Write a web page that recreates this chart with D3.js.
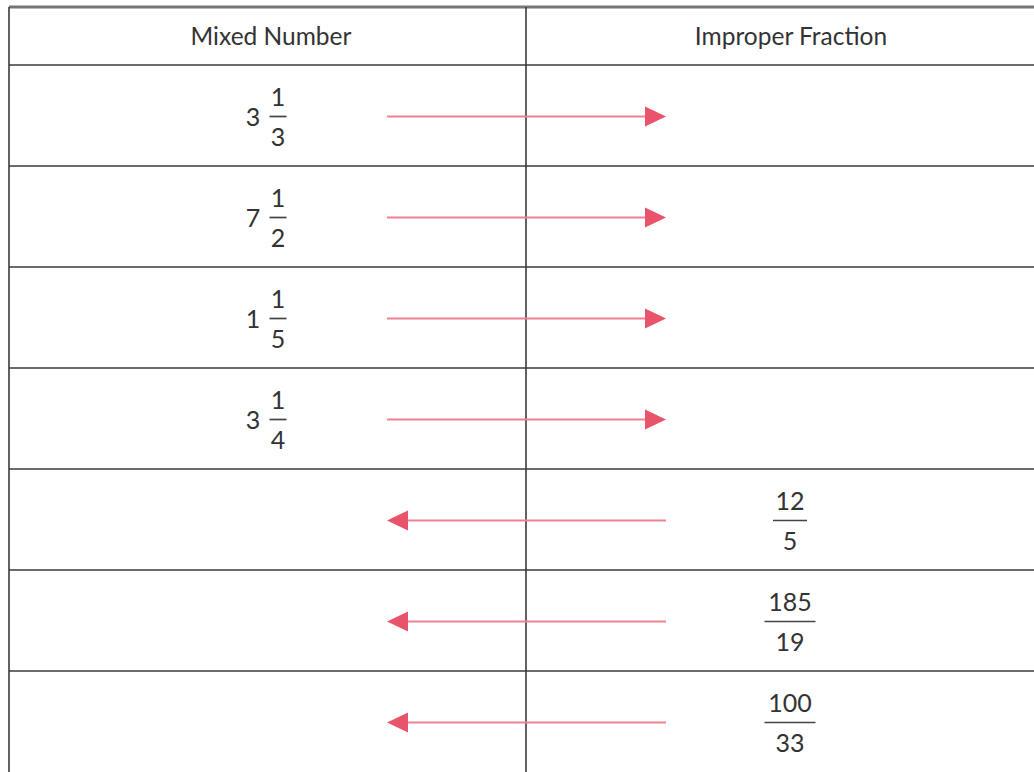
<!DOCTYPE html>
<html>
<head>
<meta charset="utf-8">
<script src="https://cdn.jsdelivr.net/npm/d3@7"></script>
<style>
  body { margin: 0; background: #fff; }
  svg { display: block; }
  text { font-family: Lato, "Open Sans", sans-serif; fill: #333; }
</style>
</head>
<body>
<main></main>
<script>
const width = 1034
const height = 772

// table content
const headers = ['Mixed Number', 'Improper Fraction']
const wholes = [3, 7, 1, 3, null, null, null]
const numerators = [1, 1, 1, 1, 12, 185, 100]
const denominators = [3, 2, 5, 4, 5, 19, 33]
const fractionColumn = [0, 0, 0, 0, 1, 1, 1]
const directions = ['right', 'right', 'right', 'right', 'left', 'left', 'left']

const grid = { left: 9, top: 7, headerBottom: 65, divider: 526, right: 1056, rowH: 101 }

const svg = d3.select('main')
              .append('svg')
              .attr('width', width)
              .attr('height', height)

const rowScale = d3.scaleBand()
                  .domain(d3.range(wholes.length))
                  .range([grid.headerBottom, grid.headerBottom + grid.rowH * wholes.length])

const colCenter = d3.scaleOrdinal()
                  .domain([0, 1])
                  .range([278, 790])

const arrowX = d3.scaleLinear().domain([0, 1]).range([387, 666])

// grid lines
const lines = svg.append('g').attr('stroke', '#3a3a3a').attr('stroke-width', 1.6)

lines.append('line')
  .attr('x1', grid.left).attr('x2', grid.right)
  .attr('y1', grid.top).attr('y2', grid.top)
  .attr('stroke', '#777').attr('stroke-width', 3)

lines.selectAll('.hline')
  .data(d3.range(wholes.length))
  .enter()
  .append('line')
  .attr('class', 'hline')
  .attr('x1', grid.left).attr('x2', grid.right)
  .attr('y1', (d) => rowScale(d)).attr('y2', (d) => rowScale(d))

lines.selectAll('.vline')
  .data([grid.left, grid.divider])
  .enter()
  .append('line')
  .attr('class', 'vline')
  .attr('x1', (d) => d).attr('x2', (d) => d)
  .attr('y1', grid.top).attr('y2', height)

// headers
svg.selectAll('.header')
  .data(headers)
  .enter()
  .append('text')
  .attr('class', 'header')
  .attr('x', (d, i) => i === 0 ? 271 : 791)
  .attr('y', 35)
  .attr('text-anchor', 'middle')
  .attr('dominant-baseline', 'central')
  .attr('font-size', 24.5)
  .text((d) => d)

// fractions (bar sits on the arrow line)
const barY = (i) => rowScale(i) + rowScale.bandwidth() / 2 + 1

const cells = svg.selectAll('.cell')
  .data(d3.range(wholes.length))
  .enter()
  .append('g')
  .attr('class', 'cell')
  .attr('transform', (i) => `translate(${colCenter(fractionColumn[i])}, ${barY(i)})`)

cells.append('text')
  .attr('y', -11)
  .attr('text-anchor', 'middle')
  .attr('font-size', 25)
  .text((i) => numerators[i])

cells.append('text')
  .attr('y', 29)
  .attr('text-anchor', 'middle')
  .attr('font-size', 25)
  .text((i) => denominators[i])

cells.append('line')
  .attr('x1', (i) => -String(numerators[i]).length * 8.5)
  .attr('x2', (i) => String(numerators[i]).length * 8.5)
  .attr('y1', 0).attr('y2', 0)
  .attr('stroke', '#444').attr('stroke-width', 1.7)

cells.filter((i) => wholes[i] !== null)
  .append('text')
  .attr('x', -25)
  .attr('y', 9)
  .attr('text-anchor', 'middle')
  .attr('font-size', 25)
  .text((i) => wholes[i])

// arrows
const arrows = svg.selectAll('.arrow')
  .data(directions)
  .enter()
  .append('g')
  .attr('class', 'arrow')

arrows.append('line')
  .attr('x1', (d) => d === 'right' ? arrowX(0) : arrowX(0) + 18)
  .attr('x2', (d) => d === 'right' ? arrowX(1) - 18 : arrowX(1))
  .attr('y1', (d, i) => barY(i)).attr('y2', (d, i) => barY(i))
  .attr('stroke', '#f08090')
  .attr('stroke-width', 2)

arrows.append('path')
  .attr('d', (d, i) => {
    const y = barY(i)
    if (d === 'right') {
      const tip = arrowX(1)
      return `M${tip},${y} L${tip - 21},${y - 10} L${tip - 21},${y + 10} Z`
    }
    const tip = arrowX(0)
    return `M${tip},${y} L${tip + 21},${y - 10} L${tip + 21},${y + 10} Z`
  })
  .attr('fill', '#e9546b')
</script>
</body>
</html>
